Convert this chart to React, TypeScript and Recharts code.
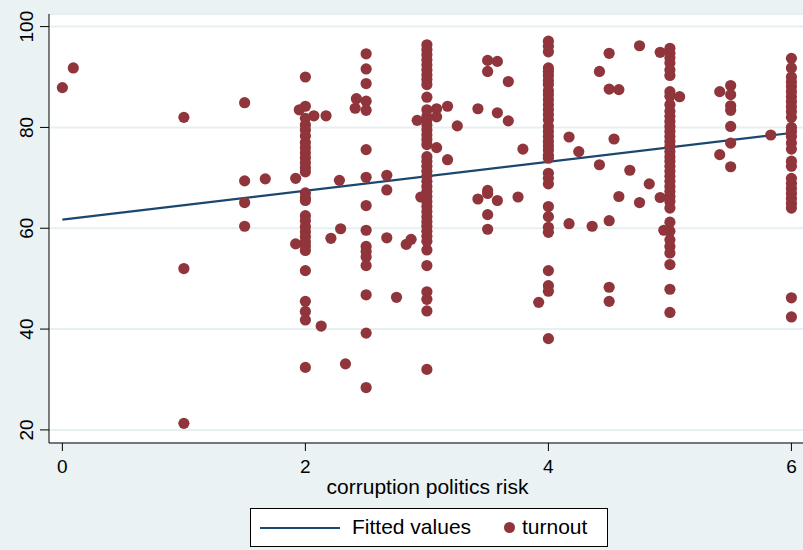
import React from 'react';
import { ComposedChart, Scatter, XAxis, YAxis, CartesianGrid, Label } from 'recharts';

// turnout values stacked at the whole / half risk scores
const atTwo = [90.0, 84.2, 81.8, 80.5, 79.5, 78.3, 77.0, 76.0, 75.0, 74.0, 73.0, 72.0, 71.2, 67.0, 66.0, 65.5, 62.5, 61.5, 60.3, 59.3, 58.3, 57.3, 56.5, 55.6, 51.6, 45.5, 43.5, 41.8, 32.4];
const atTwoHalf = [94.6, 91.6, 88.7, 85.2, 83.4, 75.6, 70.1, 64.5, 59.6, 56.4, 55.4, 54.3, 52.6, 46.8, 39.2, 28.4];
const atThree = [96.4, 95.4, 94.4, 93.4, 92.4, 91.4, 90.4, 89.5, 88.5, 86.0, 83.5, 82.2, 81.5, 80.5, 79.5, 78.5, 77.6, 76.6, 74.2, 73.3, 72.3, 71.3, 70.3, 69.3, 68.3, 67.3, 66.3, 65.3, 64.3, 63.3, 62.3, 61.3, 60.4, 59.4, 58.4, 57.4, 55.7, 52.6, 47.4, 45.9, 43.6, 32.0];
const atFour = [97.1, 96.1, 95.0, 91.8, 91.1, 90.3, 89.3, 88.5, 87.3, 86.5, 85.5, 84.5, 83.5, 82.5, 81.5, 80.2, 79.2, 78.2, 77.2, 76.3, 75.5, 74.5, 73.9, 70.9, 69.9, 68.8, 64.3, 62.3, 60.2, 59.2, 51.6, 48.6, 47.5, 38.1];
const atFive = [95.7, 94.7, 93.8, 92.8, 91.4, 90.3, 87.1, 86.2, 84.5, 83.2, 82.2, 81.2, 80.2, 79.2, 78.2, 77.2, 76.2, 75.2, 74.2, 73.3, 72.3, 71.3, 70.3, 69.3, 68.3, 67.3, 66.3, 65.3, 64.0, 61.2, 59.4, 57.7, 56.4, 55.1, 52.8, 47.9, 43.3];
const atFiveHalf = [88.3, 86.5, 84.3, 83.4, 80.2, 76.9, 72.2];
const atSix = [93.7, 91.8, 90.0, 89.0, 88.1, 87.1, 86.1, 85.1, 84.1, 83.1, 82.0, 80.0, 79.2, 78.2, 76.9, 75.7, 73.3, 72.3, 69.9, 68.9, 67.9, 66.9, 65.9, 64.9, 64.0, 46.2, 42.4];

// remaining scattered observations
const otherX = [0, 0.09, 1, 1, 1, 1.5, 1.5, 1.5, 1.5, 1.67, 1.92, 1.92, 1.95, 2.07, 2.13, 2.17, 2.21, 2.28, 2.29, 2.33, 2.41, 2.42, 2.67, 2.67, 2.67, 2.75, 2.83, 2.87, 2.92, 2.95, 3.08, 3.08, 3.08, 3.17, 3.17, 3.25, 3.42, 3.42, 3.5, 3.5, 3.5, 3.5, 3.5, 3.5, 3.58, 3.58, 3.58, 3.67, 3.67, 3.75, 3.79, 3.92, 4.17, 4.17, 4.25, 4.36, 4.42, 4.42, 4.5, 4.5, 4.5, 4.5, 4.5, 4.54, 4.58, 4.58, 4.67, 4.75, 4.75, 4.83, 4.92, 4.92, 4.95, 5.08, 5.41, 5.41, 5.83];
const otherY = [87.9, 91.8, 82.0, 52.0, 21.3, 84.9, 69.4, 65.1, 60.4, 69.8, 69.9, 56.9, 83.5, 82.3, 40.6, 82.3, 58.0, 69.5, 59.9, 33.1, 83.8, 85.7, 70.5, 67.6, 58.1, 46.3, 56.8, 57.8, 81.4, 66.2, 83.7, 82.1, 76.0, 84.2, 73.6, 80.3, 83.7, 65.8, 93.3, 91.1, 67.5, 66.9, 62.7, 59.8, 93.1, 82.9, 65.5, 89.1, 81.3, 66.2, 75.7, 45.3, 78.1, 60.9, 75.2, 60.4, 91.1, 72.6, 94.7, 87.6, 61.5, 48.3, 45.5, 77.7, 87.5, 66.3, 71.5, 96.2, 65.1, 68.8, 94.9, 66.1, 59.6, 86.1, 87.1, 74.6, 78.5];

// fitted regression line end points
const fitX = [0, 6];
const fitY = [61.7, 78.9];

const xTicks = [0, 2, 4, 6];
const yTicks = [20, 40, 60, 80, 100];

const column = (x: number, ys: number[]) => ys.map((y) => ({ x, y }));

const turnout = [
  ...column(2, atTwo),
  ...column(2.5, atTwoHalf),
  ...column(3, atThree),
  ...column(4, atFour),
  ...column(5, atFive),
  ...column(5.5, atFiveHalf),
  ...column(6, atSix),
  ...otherX.map((x, i) => ({ x, y: otherY[i] })),
];
const fitted = fitX.map((x, i) => ({ x, y: fitY[i] }));

const MAROON = '#90353B';
const NAVY = '#1A476F';
const BG = '#EAF2F3';
const FONT = '"Liberation Sans", Arial, sans-serif';

const Dot = (p: any) => <circle cx={p.cx} cy={p.cy} r={5.6} fill={MAROON} />;

const YTick = (p: any) => (
  <text x={33} y={p.y} transform={`rotate(-90, 33, ${p.y})`} textAnchor="middle" fontSize={19} fontFamily={FONT} fill="#000">
    {p.payload.value}
  </text>
);

const XTick = (p: any) => (
  <text x={p.x} y={473} textAnchor="middle" fontSize={19} fontFamily={FONT} fill="#000">
    {p.payload.value}
  </text>
);

export default function App() {
  return (
    <div style={{ position: 'absolute', left: 0, top: 0, width: 803, height: 550, overflow: 'hidden', background: BG }}>
      <ComposedChart width={810} height={550} margin={{ top: 14, right: 4, bottom: 0, left: 0 }}>
        <CartesianGrid horizontal vertical={false} fill="#fff" stroke="#E6EFF1" strokeWidth={2} />
        <XAxis
          type="number"
          dataKey="x"
          domain={[-0.11, 6.12]}
          allowDataOverflow
          ticks={xTicks}
          height={107}
          tickSize={8}
          axisLine={{ stroke: '#000' }}
          tickLine={{ stroke: '#000' }}
          tick={<XTick />}
        >
          <Label
            content={(props: any) => (
              <text x={props.viewBox.x + props.viewBox.width / 2} y={494} textAnchor="middle" fontSize={21} fontFamily={FONT} fill="#000">
                corruption politics risk
              </text>
            )}
          />
        </XAxis>
        <YAxis
          type="number"
          dataKey="y"
          domain={[17.4, 102.5]}
          allowDataOverflow
          ticks={yTicks}
          width={49}
          tickSize={9}
          axisLine={{ stroke: '#000' }}
          tickLine={{ stroke: '#000' }}
          tick={<YTick />}
        />
        <Scatter data={fitted} dataKey="y" line={{ stroke: NAVY, strokeWidth: 2.2 }} shape={() => <g />} isAnimationActive={false} />
        <Scatter data={turnout} dataKey="y" shape={<Dot />} isAnimationActive={false} />
      </ComposedChart>
      <div
        style={{
          position: 'absolute', left: 250, top: 508, width: 356, height: 37, background: '#fff', border: '1px solid #000',
          fontFamily: FONT, fontSize: 21, color: '#000',
        }}
      >
        <div style={{ position: 'absolute', left: 9, top: 18, width: 80, height: 2, background: NAVY }} />
        <span style={{ position: 'absolute', left: 101, top: 6, whiteSpace: 'nowrap' }}>Fitted values</span>
        <div style={{ position: 'absolute', left: 253, top: 13, width: 11, height: 11, borderRadius: '50%', background: MAROON }} />
        <span style={{ position: 'absolute', left: 271, top: 6, whiteSpace: 'nowrap' }}>turnout</span>
      </div>
    </div>
  );
}
